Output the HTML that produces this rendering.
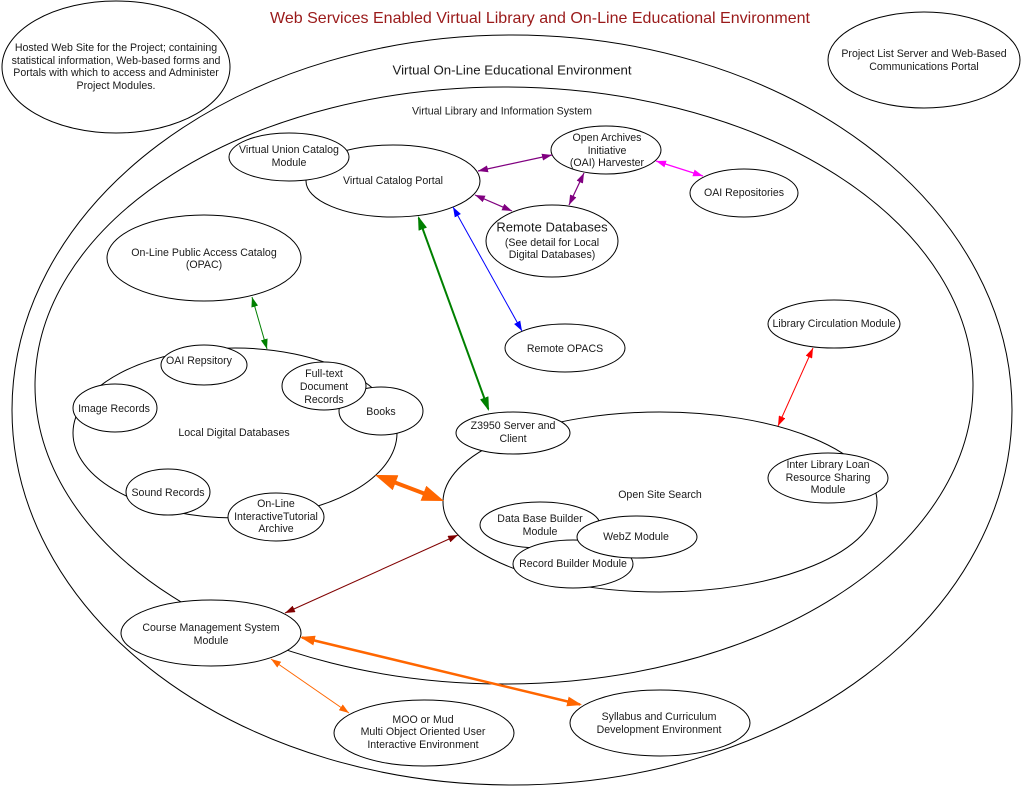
<!DOCTYPE html>
<html>
<head>
<meta charset="utf-8">
<style>
  html,body{margin:0;padding:0;background:#fff;}
  svg{display:block;}
  text{font-family:"Liberation Sans",Arial,sans-serif;fill:#1a1a1a;}
  .t{font-size:10.6px;text-anchor:middle;}
  ellipse{stroke:#000;stroke-width:1;}
  .w{fill:#fff;}
  .n{fill:none;}
</style>
</head>
<body>
<svg width="1021" height="787" viewBox="0 0 1021 787" xmlns="http://www.w3.org/2000/svg">
  <defs>
    <marker id="mP" viewBox="0 0 10 7" refX="10" refY="3.5" markerWidth="10" markerHeight="7" markerUnits="userSpaceOnUse" orient="auto-start-reverse"><path d="M0,0 L10,3.5 L0,7 z" fill="#800080"/></marker>
    <marker id="mM" viewBox="0 0 10 7" refX="10" refY="3.5" markerWidth="10" markerHeight="7" markerUnits="userSpaceOnUse" orient="auto-start-reverse"><path d="M0,0 L10,3.5 L0,7 z" fill="#ff00ff"/></marker>
    <marker id="mB" viewBox="0 0 10 7" refX="10" refY="3.5" markerWidth="10" markerHeight="7" markerUnits="userSpaceOnUse" orient="auto-start-reverse"><path d="M0,0 L10,3.5 L0,7 z" fill="#0000ff"/></marker>
    <marker id="mG" viewBox="0 0 10 7" refX="10" refY="3.5" markerWidth="10" markerHeight="7" markerUnits="userSpaceOnUse" orient="auto-start-reverse"><path d="M0,0 L10,3.5 L0,7 z" fill="#008000"/></marker>
    <marker id="mG2" viewBox="0 0 14 9" refX="12" refY="4.5" markerWidth="14" markerHeight="9" markerUnits="userSpaceOnUse" orient="auto-start-reverse"><path d="M0,0 L14,4.5 L0,9 z" fill="#008000"/></marker>
    <marker id="mR" viewBox="0 0 10 7" refX="10" refY="3.5" markerWidth="10" markerHeight="7" markerUnits="userSpaceOnUse" orient="auto-start-reverse"><path d="M0,0 L10,3.5 L0,7 z" fill="#ff0000"/></marker>
    <marker id="mD" viewBox="0 0 10 7" refX="10" refY="3.5" markerWidth="10" markerHeight="7" markerUnits="userSpaceOnUse" orient="auto-start-reverse"><path d="M0,0 L10,3.5 L0,7 z" fill="#800000"/></marker>
    <marker id="mO" viewBox="0 0 10 7" refX="10" refY="3.5" markerWidth="10" markerHeight="7" markerUnits="userSpaceOnUse" orient="auto-start-reverse"><path d="M0,0 L10,3.5 L0,7 z" fill="#ff6600"/></marker>
    <marker id="mO2" viewBox="0 0 15 10" refX="13" refY="5" markerWidth="15" markerHeight="10" markerUnits="userSpaceOnUse" orient="auto-start-reverse"><path d="M0,0 L15,5 L0,10 z" fill="#ff6600"/></marker>
    <marker id="mO3" viewBox="0 0 22 16" refX="14" refY="8" markerWidth="22" markerHeight="16" markerUnits="userSpaceOnUse" orient="auto-start-reverse"><path d="M0,0 L22,8 L0,16 z" fill="#ff6600"/></marker>
  </defs>

  <!-- top-level ellipses -->
  <ellipse class="w" cx="116" cy="67" rx="114" ry="66"/>
  <ellipse class="w" cx="924" cy="60" rx="96" ry="48"/>

  <!-- big containers -->
  <ellipse class="n" cx="512" cy="410" rx="500" ry="375"/>
  <ellipse class="n" cx="504" cy="385.5" rx="469" ry="298.5"/>

  <!-- catalog portal group -->
  <ellipse class="w" cx="393" cy="181" rx="87" ry="36"/>
  <ellipse class="w" cx="289" cy="157" rx="60" ry="24"/>
  <ellipse class="w" cx="606" cy="150" rx="55" ry="24"/>
  <ellipse class="w" cx="744" cy="193" rx="54" ry="24"/>
  <ellipse class="w" cx="552" cy="241" rx="66" ry="36"/>

  <ellipse class="w" cx="204" cy="258" rx="97" ry="43"/>
  <ellipse class="w" cx="565" cy="348" rx="60" ry="24"/>
  <ellipse class="w" cx="834" cy="324" rx="66" ry="24"/>

  <!-- local digital databases -->
  <ellipse class="w" cx="235" cy="433" rx="162" ry="85"/>
  <ellipse class="w" cx="204" cy="365" rx="43" ry="20"/>
  <ellipse class="w" cx="115" cy="408" rx="42" ry="24"/>
  <ellipse class="w" cx="381" cy="411" rx="42" ry="24"/>
  <ellipse class="w" cx="324" cy="386" rx="42" ry="24"/>
  <ellipse class="w" cx="168" cy="492" rx="42" ry="23"/>
  <ellipse class="w" cx="276" cy="517" rx="48" ry="24"/>

  <!-- open site search -->
  <ellipse class="w" cx="660" cy="502" rx="217" ry="90"/>
  <ellipse class="w" cx="513" cy="433" rx="57" ry="21"/>
  <ellipse class="w" cx="828" cy="478" rx="60" ry="25"/>
  <ellipse class="w" cx="540" cy="525" rx="60" ry="23"/>
  <ellipse class="w" cx="573" cy="564" rx="60" ry="24"/>
  <ellipse class="w" cx="637" cy="537" rx="60" ry="21"/>

  <!-- course management -->
  <ellipse class="w" cx="211" cy="633" rx="90" ry="33"/>
  <ellipse class="w" cx="424" cy="733" rx="90" ry="33"/>
  <ellipse class="w" cx="660" cy="723" rx="90" ry="33"/>

  <!-- connectors -->
  <g fill="none">
    <line x1="478" y1="171" x2="552" y2="155" stroke="#800080" stroke-width="1.2" marker-start="url(#mP)" marker-end="url(#mP)"/>
    <line x1="475" y1="195" x2="512" y2="211" stroke="#800080" stroke-width="1.2" marker-start="url(#mP)" marker-end="url(#mP)"/>
    <line x1="584" y1="173" x2="569" y2="205" stroke="#800080" stroke-width="1.2" marker-start="url(#mP)" marker-end="url(#mP)"/>
    <line x1="656" y1="161" x2="703" y2="176" stroke="#ff00ff" stroke-width="1.2" marker-start="url(#mM)" marker-end="url(#mM)"/>
    <line x1="453" y1="207" x2="522" y2="331" stroke="#0000ff" stroke-width="1" marker-start="url(#mB)" marker-end="url(#mB)"/>
    <line x1="418.7" y1="217.9" x2="488.3" y2="409.1" stroke="#008000" stroke-width="2" marker-start="url(#mG2)" marker-end="url(#mG2)"/>
    <line x1="252" y1="297" x2="267" y2="349" stroke="#008000" stroke-width="1" marker-start="url(#mG)" marker-end="url(#mG)"/>
    <line x1="813" y1="348" x2="778" y2="426" stroke="#ff0000" stroke-width="1" marker-start="url(#mR)" marker-end="url(#mR)"/>
    <line x1="382.5" y1="477.8" x2="436.5" y2="498.2" stroke="#ff6600" stroke-width="4" marker-start="url(#mO3)" marker-end="url(#mO3)"/>
    <line x1="458" y1="535" x2="285" y2="613" stroke="#800000" stroke-width="1" marker-start="url(#mD)" marker-end="url(#mD)"/>
    <line x1="301.9" y1="637.5" x2="580.1" y2="704.5" stroke="#ff6600" stroke-width="2.5" marker-start="url(#mO2)" marker-end="url(#mO2)"/>
    <line x1="271" y1="659" x2="349" y2="713" stroke="#ff6600" stroke-width="1" marker-start="url(#mO)" marker-end="url(#mO)"/>
  </g>

  <!-- labels -->
  <text x="540" y="23" font-size="16" text-anchor="middle" textLength="540" lengthAdjust="spacingAndGlyphs" style="fill:#9a1a1a">Web Services Enabled Virtual Library and On-Line Educational Environment</text>

  <text class="t" x="116" y="51">Hosted Web Site for the Project; containing</text>
  <text class="t" x="116" y="64">statistical information, Web-based forms and</text>
  <text class="t" x="116" y="76">Portals with which to access and Administer</text>
  <text class="t" x="116" y="89">Project Modules.</text>

  <text class="t" x="924" y="57">Project List Server and Web-Based</text>
  <text class="t" x="924" y="70">Communications Portal</text>

  <text x="512" y="74.5" font-size="12.8" text-anchor="middle" textLength="239" lengthAdjust="spacingAndGlyphs">Virtual On-Line Educational Environment</text>
  <text class="t" x="502" y="114.5">Virtual Library and Information System</text>

  <text class="t" x="289" y="153">Virtual Union Catalog</text>
  <text class="t" x="289" y="166">Module</text>
  <text class="t" x="393" y="184">Virtual Catalog Portal</text>

  <text class="t" x="607" y="141">Open Archives</text>
  <text class="t" x="607" y="154">Initiative</text>
  <text class="t" x="607" y="166">(OAI) Harvester</text>
  <text class="t" x="744" y="196">OAI Repositories</text>

  <text x="552" y="231.5" font-size="13" text-anchor="middle">Remote Databases</text>
  <text class="t" x="552" y="246">(See detail for Local</text>
  <text class="t" x="552" y="258">Digital Databases)</text>

  <text class="t" x="204" y="256">On-Line Public Access Catalog</text>
  <text class="t" x="204" y="268">(OPAC)</text>

  <text class="t" x="565" y="352">Remote OPACS</text>
  <text class="t" x="834" y="327">Library Circulation Module</text>

  <text class="t" x="199" y="364">OAI Repsitory</text>
  <text class="t" x="114" y="412">Image Records</text>
  <text class="t" x="324" y="377">Full-text</text>
  <text class="t" x="324" y="390">Document</text>
  <text class="t" x="324" y="403">Records</text>
  <text class="t" x="381" y="415">Books</text>
  <text class="t" x="234" y="436">Local Digital Databases</text>
  <text class="t" x="168" y="496">Sound Records</text>
  <text class="t" x="276" y="507">On-Line</text>
  <text class="t" x="276" y="520">InteractiveTutorial</text>
  <text class="t" x="276" y="532">Archive</text>

  <text class="t" x="513" y="429">Z3950 Server and</text>
  <text class="t" x="513" y="442">Client</text>
  <text class="t" x="828" y="468">Inter Library Loan</text>
  <text class="t" x="828" y="481">Resource Sharing</text>
  <text class="t" x="828" y="493">Module</text>
  <text class="t" x="660" y="498">Open Site Search</text>
  <text class="t" x="540" y="522">Data Base Builder</text>
  <text class="t" x="540" y="535">Module</text>
  <text class="t" x="636" y="540">WebZ Module</text>
  <text class="t" x="573" y="567">Record Builder Module</text>

  <text class="t" x="211" y="631">Course Management System</text>
  <text class="t" x="211" y="644">Module</text>
  <text class="t" x="423" y="723">MOO or Mud</text>
  <text class="t" x="423" y="735">Multi Object Oriented User</text>
  <text class="t" x="423" y="748">Interactive Environment</text>
  <text class="t" x="659" y="720">Syllabus and Curriculum</text>
  <text class="t" x="659" y="733">Development Environment</text>
</svg>
</body>
</html>
